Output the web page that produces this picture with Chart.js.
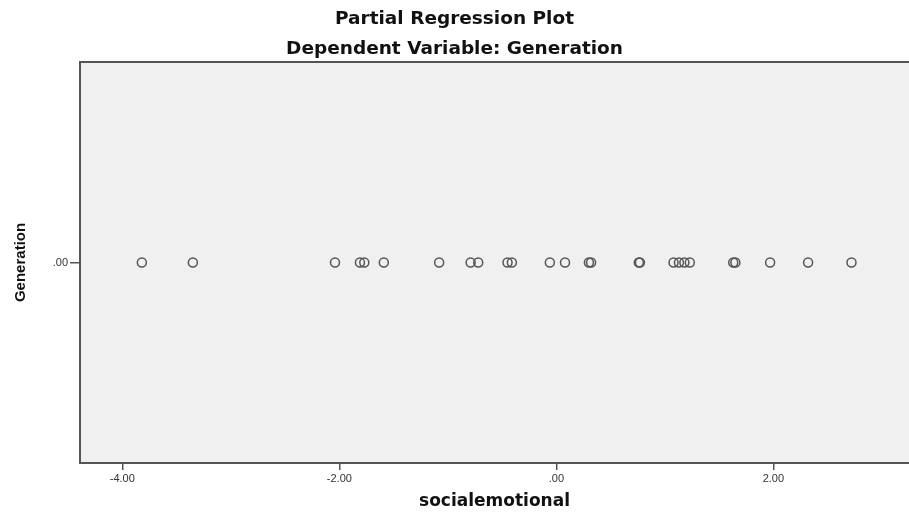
<!DOCTYPE html>
<html>
<head>
<meta charset="utf-8">
<script src="https://cdn.jsdelivr.net/npm/chart.js@4"></script>
<style>
  html, body { margin: 0; padding: 0; background: #fff; }
  #wrap { width: 909px; height: 512px; }
</style>
</head>
<body>
<div id="wrap"><canvas id="chart" width="909" height="512"></canvas></div>
<script>
// partial regression residuals
const socialemotional = [
  -3.82, -3.35, -2.04, -1.81, -1.77, -1.59, -1.08, -0.79, -0.72, -0.45, -0.41,
  -0.06, 0.08, 0.30, 0.32, 0.76, 0.77, 1.08, 1.13, 1.18, 1.23, 1.63, 1.65,
  1.97, 2.32, 2.72
];
const generation = socialemotional.map(() => 0);
const xTicks = [-4, -2, 0, 2];
const yTicks = [0];

const titleLines = ['Partial Regression Plot', 'Dependent Variable: Generation'];

function spssLabel(v) {
  const s = Number(v).toFixed(2);
  return s.replace(/^(-?)0\./, '$1.');
}

const plotBg = {
  id: 'plotBg',
  beforeDraw(chart) {
    const { ctx, chartArea: a } = chart;
    ctx.save();
    ctx.fillStyle = '#f0f0f0';
    ctx.fillRect(a.left, a.top, a.right - a.left, a.bottom - a.top);
    ctx.restore();
  },
  afterDraw(chart) {
    const { ctx, chartArea: a } = chart;
    ctx.save();
    ctx.strokeStyle = '#555';
    ctx.lineWidth = 2;
    ctx.beginPath();
    ctx.moveTo(a.left, a.top);
    ctx.lineTo(a.right, a.top);
    ctx.stroke();
    ctx.restore();
  }
};

new Chart(document.getElementById('chart').getContext('2d'), {
  type: 'scatter',
  data: {
    datasets: [{
      data: socialemotional.map((x, i) => ({ x, y: generation[i] })),
      pointStyle: 'circle',
      pointRadius: 4.5,
      pointHoverRadius: 4.5,
      pointBorderWidth: 1.5,
      pointBorderColor: '#555',
      pointBackgroundColor: 'rgba(0,0,0,0)'
    }]
  },
  options: {
    responsive: false,
    animation: false,
    layout: { padding: 0, autoPadding: false },
    plugins: {
      legend: { display: false },
      tooltip: { enabled: false },
      title: {
        display: true,
        text: titleLines,
        color: '#111',
        font: { family: 'DejaVu Sans', size: 18.5, weight: 'bold', lineHeight: 1.62 },
        padding: { top: 4, bottom: -2 }
      }
    },
    scales: {
      x: {
        type: 'linear',
        min: -4.39,
        max: 3.25,
        afterFit(scale) { scale.height = 49; },
        afterBuildTicks(scale) { scale.ticks = xTicks.map(v => ({ value: v })); },
        ticks: {
          color: '#333',
          font: { family: 'Liberation Sans', size: 11 },
          padding: 2,
          maxRotation: 0,
          callback: v => spssLabel(v)
        },
        grid: { drawOnChartArea: false, drawTicks: true, tickLength: 7, color: '#555', lineWidth: 1.5 },
        border: { display: true, color: '#555', width: 2 },
        title: {
          display: true,
          text: 'socialemotional',
          color: '#111',
          font: { family: 'DejaVu Sans', size: 17, weight: 'bold' },
          padding: { top: 0, bottom: 0 }
        }
      },
      y: {
        type: 'linear',
        min: -1,
        max: 1,
        afterFit(scale) { scale.width = 80; },
        afterBuildTicks(scale) { scale.ticks = yTicks.map(v => ({ value: v })); },
        ticks: {
          color: '#333',
          font: { family: 'Liberation Sans', size: 11 },
          padding: 2,
          callback: v => spssLabel(v)
        },
        grid: { drawOnChartArea: false, drawTicks: true, tickLength: 10, color: '#555', lineWidth: 1.5 },
        border: { display: true, color: '#555', width: 2 },
        title: {
          display: true,
          text: 'Generation',
          color: '#111',
          font: { family: 'Liberation Sans', size: 15, weight: 'bold' },
          padding: { top: 12, bottom: 0 }
        }
      }
    }
  },
  plugins: [plotBg]
});
</script>
</body>
</html>
